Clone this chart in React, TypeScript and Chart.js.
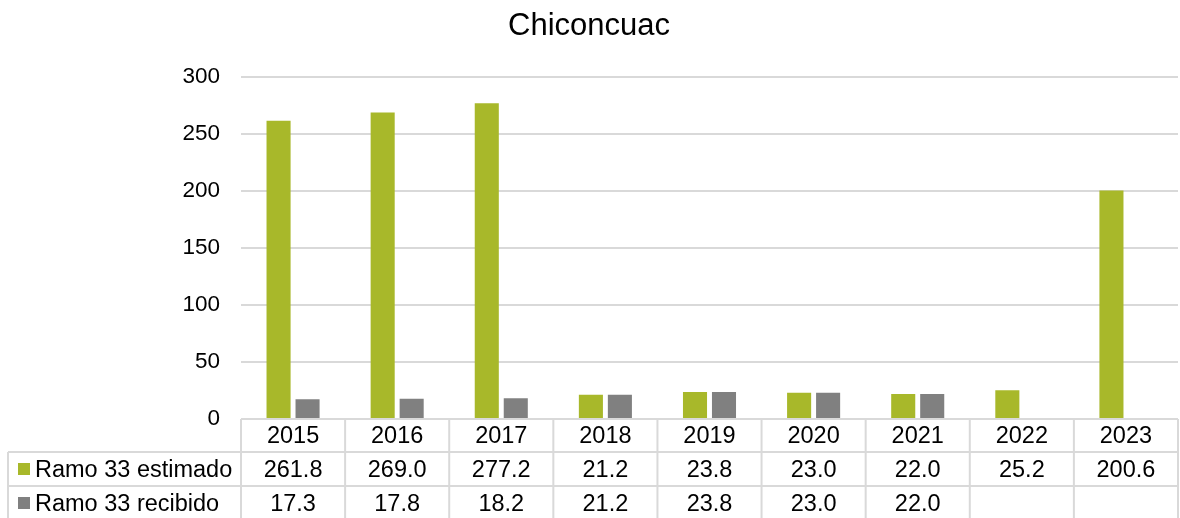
import React, { useEffect, useRef } from "react";
import { Chart, registerables } from "chart.js";

Chart.register(...registerables);

const TITLE = "Chiconcuac";
const years = ["2015", "2016", "2017", "2018", "2019", "2020", "2021", "2022", "2023"];
const estimado = [261.8, 269.0, 277.2, 21.2, 23.8, 23.0, 22.0, 25.2, 200.6];
const recibido: (number | null)[] = [17.3, 17.8, 18.2, 21.2, 23.8, 23.0, 22.0, null, null];
const seriesNames = ["Ramo 33 estimado", "Ramo 33 recibido"];
const yTicks = [0, 50, 100, 150, 200, 250, 300];

const GREEN = "#A8B82A";
const GRAY = "#808080";
const GRID = "#D9D9D9";
const FONT = "'Liberation Sans', Arial, sans-serif";

const tablePlugin = {
  id: "dataTable",
  afterDraw(chart: any) {
    const { ctx, chartArea } = chart;
    const x = chart.scales.x;
    const n = years.length;
    const left = chartArea.left;
    const right = chartArea.right;
    const cw = (right - left) / n;
    const top = chartArea.bottom;
    const r1 = top + 33;
    const r2 = top + 67;
    const bottom = chart.height + 2;
    const tableLeft = 8;

    ctx.save();
    ctx.strokeStyle = GRID;
    ctx.lineWidth = 2;
    ctx.beginPath();
    ctx.moveTo(left, top);
    ctx.lineTo(right, top);
    ctx.moveTo(tableLeft, r1);
    ctx.lineTo(right, r1);
    ctx.moveTo(tableLeft, r2);
    ctx.lineTo(right, r2);
    ctx.moveTo(tableLeft, r1);
    ctx.lineTo(tableLeft, bottom);
    for (let i = 0; i <= n; i++) {
      const px = left + i * cw;
      ctx.moveTo(px, top);
      ctx.lineTo(px, bottom);
    }
    ctx.stroke();

    ctx.fillStyle = "#000";
    ctx.font = `23.5px ${FONT}`;
    ctx.textAlign = "center";
    ctx.textBaseline = "alphabetic";
    const rowsData = [estimado, recibido];
    for (let i = 0; i < n; i++) {
      const cx = x.getPixelForValue(i);
      ctx.fillText(years[i], cx, top + 24);
      rowsData.forEach((row, ri) => {
        const v = row[i];
        if (v !== null && v !== undefined) {
          ctx.fillText(v.toFixed(1), cx, top + 58 + ri * 34);
        }
      });
    }
    ctx.textAlign = "left";
    const colors = [GREEN, GRAY];
    seriesNames.forEach((name, ri) => {
      const cy = r1 + 17 + ri * 34;
      ctx.fillStyle = colors[ri];
      ctx.fillRect(18, cy - 6, 12, 12);
      ctx.fillStyle = "#000";
      ctx.fillText(name, 35, top + 58 + ri * 34);
    });
    ctx.restore();
  },
};

export default function App() {
  const ref = useRef<HTMLCanvasElement | null>(null);
  useEffect(() => {
    if (!ref.current) return;
    const chart = new Chart(ref.current, {
      type: "bar",
      data: {
        labels: years,
        datasets: [
          { label: seriesNames[0], data: estimado, backgroundColor: GREEN },
          { label: seriesNames[1], data: recibido as any, backgroundColor: GRAY },
        ],
      },
      options: {
        animation: false,
        responsive: false,
        maintainAspectRatio: false,
        layout: { padding: { top: 0, left: 0, right: 2, bottom: 99 } },
        datasets: { bar: { categoryPercentage: 0.557, barPercentage: 0.83 } } as any,
        plugins: {
          legend: { display: false },
          tooltip: { enabled: false },
          title: {
            display: true,
            text: TITLE,
            color: "#000",
            font: { family: FONT, size: 31, weight: "normal" as any, lineHeight: 1.2 },
            padding: { top: 8, bottom: 32 },
          },
        },
        scales: {
          x: { display: false },
          y: {
            min: 0,
            max: 300,
            afterFit(scale: any) {
              scale.width = 241;
            },
            afterBuildTicks(scale: any) {
              scale.ticks = yTicks.map((v) => ({ value: v }));
            },
            border: { display: false },
            grid: { color: GRID, lineWidth: 2, drawTicks: false },
            ticks: {
              color: "#000",
              padding: 21,
              font: { family: FONT, size: 22.5 },
            },
          },
        },
      },
      plugins: [tablePlugin],
    });
    return () => chart.destroy();
  }, []);
  return (
    <div style={{ position: "absolute", left: 0, top: 0, width: 1180, height: 518, background: "#fff" }}>
      <canvas ref={ref} width={1180} height={518} style={{ display: "block" }} />
    </div>
  );
}
